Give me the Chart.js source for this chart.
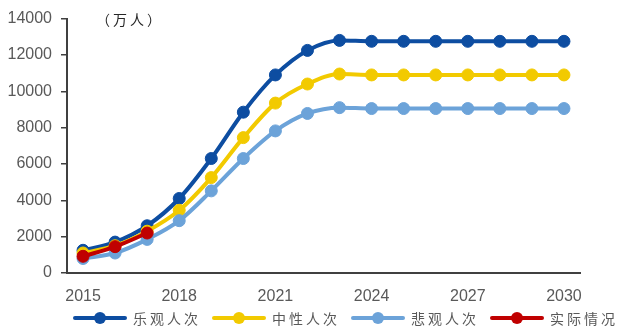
<!DOCTYPE html>
<html>
<head>
<meta charset="utf-8">
<script src="https://cdn.jsdelivr.net/npm/chart.js@4.4.1/dist/chart.umd.min.js"></script>
<style>
  html, body { margin: 0; padding: 0; background: #fff; }
  #wrap { position: relative; width: 622px; height: 333px; }
  #legend {
    position: absolute; left: 73px; top: 308px; height: 20px;
    display: flex; align-items: center;
    font-family: "Noto Sans CJK SC", sans-serif; font-size: 14px; color: #595959;
  }
  .item { display: flex; align-items: center; width: 139px; }
  .swatch { position: relative; width: 54px; height: 12px; margin-right: 6px; }
  .swatch .ln { position: absolute; left: 0; right: 0; top: 4px; height: 4px; border-radius: 2px; }
  .swatch .dot { position: absolute; left: 21px; top: 0; width: 12px; height: 12px; border-radius: 50%; }
  .txt { letter-spacing: 3px; white-space: nowrap; }
</style>
</head>
<body>
<div id="wrap">
  <canvas id="myChart" width="622" height="333"></canvas>
  <div id="legend"></div>
</div>
<script>
// 旅游人次预测（万人），2015-2030
var years = ['2015', '2016', '2017', '2018', '2019', '2020', '2021', '2022',
  '2023', '2024', '2025', '2026', '2027', '2028', '2029', '2030'];
var optimistic = [1250, 1700, 2600, 4100, 6300, 8850, 10900, 12250,
  12800, 12750, 12750, 12750, 12750, 12750, 12750, 12750];
var neutral = [1100, 1500, 2300, 3450, 5250, 7450, 9350, 10400,
  10950, 10900, 10900, 10900, 10900, 10900, 10900, 10900];
var pessimistic = [800, 1100, 1850, 2880, 4520, 6300, 7820, 8780,
  9100, 9050, 9050, 9050, 9050, 9050, 9050, 9050];
var actual = [920, 1450, 2200];

var yTicks = [0, 2000, 4000, 6000, 8000, 10000, 12000, 14000];

var seriesNames = ['乐观人次', '中性人次', '悲观人次', '实际情况'];
var seriesColors = ['#0D4DA1', '#F2CA00', '#6CA3D9', '#C00000'];

function lineSet(i, values, order) {
  return {
    label: seriesNames[i],
    data: values,
    borderColor: seriesColors[i],
    backgroundColor: seriesColors[i],
    pointBackgroundColor: seriesColors[i],
    pointBorderColor: seriesColors[i],
    borderWidth: 4,
    pointRadius: 6,
    pointBorderWidth: 1,
    cubicInterpolationMode: 'monotone',
    fill: false,
    order: order,
  };
}

const data = {
  labels: years,
  datasets: [
    lineSet(0, optimistic, 3),
    lineSet(1, neutral, 2),
    lineSet(2, pessimistic, 1),
    lineSet(3, actual, 0),
  ],
};

// unit label in the top-left of the plot
const unitLabel = {
  id: 'unitLabel',
  afterDraw(chart) {
    const ctx = chart.ctx;
    ctx.save();
    ctx.font = '14px "Noto Sans CJK SC"';
    ctx.letterSpacing = '3px';
    ctx.fillStyle = '#262626';
    ctx.textBaseline = 'middle';
    ctx.fillText('（万人）', 96, 20);
    ctx.restore();
  },
};

const tickFont = { family: '"Liberation Sans", Arial, sans-serif', size: 16 };

const config = {
  type: 'line',
  data: data,
  options: {
    responsive: false,
    animation: false,
    layout: { padding: { top: 11, right: 42, left: 0, bottom: 0 } },
    plugins: {
      legend: { display: false },
      tooltip: { enabled: false },
    },
    scales: {
      x: {
        offset: true,
        grid: { display: false },
        border: { display: true, color: '#404040', width: 2 },
        ticks: {
          autoSkip: false,
          maxRotation: 0,
          padding: 6,
          color: '#595959',
          font: tickFont,
          callback: function (val, i) {
            return i % 3 === 0 ? this.getLabelForValue(val) : '';
          },
        },
        afterFit: function (scale) { scale.height = 60; },
      },
      y: {
        min: 0,
        max: 14000,
        afterBuildTicks: function (scale) {
          scale.ticks = yTicks.map((v) => ({ value: v }));
        },
        grid: {
          display: true,
          drawOnChartArea: false,
          drawTicks: true,
          tickLength: 6,
          color: '#404040',
          lineWidth: 1.5,
        },
        border: { display: true, color: '#404040', width: 2 },
        ticks: {
          padding: 9,
          color: '#595959',
          font: tickFont,
          callback: function (val) { return String(val); },
        },
        afterFit: function (scale) { scale.width = 67; },
      },
    },
  },
  plugins: [unitLabel],
};

var myChart = new Chart(document.getElementById('myChart'), config);

// legend: line with a dot, followed by the series name
var legendEl = document.getElementById('legend');
seriesNames.forEach(function (name, i) {
  var item = document.createElement('div');
  item.className = 'item';
  item.innerHTML =
    '<div class="swatch"><div class="ln" style="background:' + seriesColors[i] + '"></div>' +
    '<div class="dot" style="background:' + seriesColors[i] + '"></div></div>' +
    '<span class="txt">' + name + '</span>';
  legendEl.appendChild(item);
});
</script>
</body>
</html>
